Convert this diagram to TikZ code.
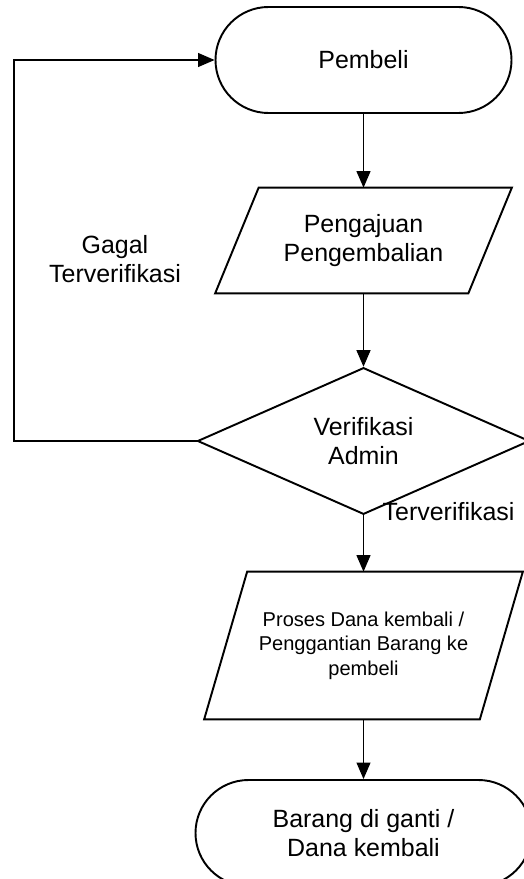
\documentclass[tikz,border=0pt]{standalone}
\usepackage{fontspec}
\setmainfont{Liberation Sans}
\usepackage{tikz}
\usetikzlibrary{shapes.geometric,arrows.meta,positioning,calc}
\tikzset{
    terminal/.style={
        rectangle, rounded corners=1.06cm, draw=black, line width=1.1pt,
        minimum width=5.92cm, minimum height=2.12cm,
        align=center, font=\fontsize{14.2}{16.2}\selectfont
    },
    data/.style={
        rectangle, inner sep=2pt,
        align=center, font=\fontsize{14.2}{16.2}\selectfont
    },
    outline/.style={draw=black, line width=1.1pt, line join=miter},
    decision/.style={
        diamond, draw=black, line width=1.1pt, inner sep=0pt,
        minimum width=6.64cm, minimum height=2.08cm,
        align=center, font=\fontsize{14.2}{16.2}\selectfont
    },
    label/.style={align=center, font=\fontsize{14.2}{16.2}\selectfont},
    arrow/.style={-{Triangle[length=0.33cm,width=0.28cm]}, line width=0.6pt}
}

\begin{document}
\begin{tikzpicture}[x=1cm,y=1cm]
\useasboundingbox (0,0) rectangle (10.48,-17.58);

% ---- flow nodes ----
\node[terminal] (pembeli) at (7.27, -1.2) {Pembeli};
\node[data, minimum width=5.92cm, minimum height=2.1cm] (ajukan) at (7.27, -4.81)
      {Pengajuan\\Pengembalian};
\node[decision] (verif) at (7.27, -8.82) {Verifikasi\\Admin};
\node[data, minimum width=6.36cm, minimum height=2.94cm,
      font=\fontsize{11.4}{13.9}\selectfont] (proses) at (7.27, -12.91)
      {Proses Dana kembali /\\Penggantian Barang ke\\pembeli};
\node[terminal, minimum width=6.72cm] (selesai) at (7.27, -16.66)
      {Barang di ganti /\\Dana kembali};

% parallelogram outlines
\draw[outline] ($(ajukan.north west)+(0.87,0)$) -- (ajukan.north east)
    -- ($(ajukan.south east)-(0.87,0)$) -- (ajukan.south west) -- cycle;
\draw[outline] ($(proses.north west)+(0.86,0)$) -- (proses.north east)
    -- ($(proses.south east)-(0.86,0)$) -- (proses.south west) -- cycle;

% ---- labels ----
\node[label] (gagal) at (2.3, -5.18) {Gagal\\Terverifikasi};
\node[label, anchor=west] (lolos) at (7.53, -10.24) {Terverifikasi};

% loop back corner
\coordinate (kiri) at (0.28, -1.2);

% main flow
\draw[arrow] (pembeli) -- (ajukan);
\draw[arrow] (ajukan) -- (verif);
\draw[arrow] (verif) -- (proses);
\draw[arrow] (proses) -- (selesai);

% failed verification goes back to pembeli
\draw[arrow] (verif.west) -- (verif.west -| kiri) -- (kiri) -- (pembeli.west);

\end{tikzpicture}
\end{document}
